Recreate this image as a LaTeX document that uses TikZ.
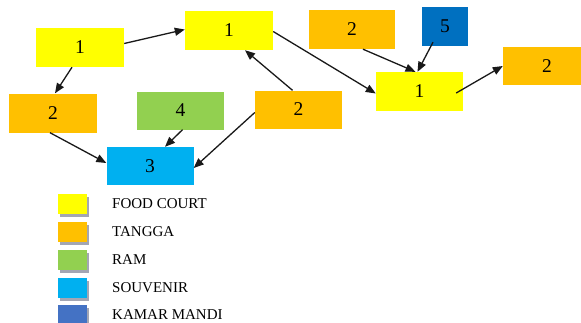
\documentclass[tikz,border=0pt]{standalone}
\usepackage{fontspec}
\setmainfont{Liberation Serif}
\usetikzlibrary{arrows.meta}
\definecolor{fy}{HTML}{FFFF00}
\definecolor{fo}{HTML}{FFC000}
\definecolor{fg}{HTML}{92D050}
\definecolor{fb}{HTML}{00B0F0}
\definecolor{fd}{HTML}{0070C0}
\definecolor{fk}{HTML}{4472C4}
\definecolor{shade}{HTML}{A3A6B4}
\tikzset{
  box/.style={rectangle, inner sep=0pt, minimum width=88pt, minimum height=39pt, font=\fontsize{19.5}{19.5}\selectfont},
  conn/.style={draw=black!90, line width=1.3pt, -{Triangle[length=10pt,width=8pt]}},
  legsq/.style={rectangle, inner sep=0pt, minimum width=29pt, minimum height=20pt},
  legshadow/.style={rectangle, inner sep=0pt, minimum width=29pt, minimum height=20pt, fill=shade},
  legtxt/.style={anchor=west, inner sep=0pt, font=\fontsize{15}{15}\selectfont}
}
\begin{document}
\begin{tikzpicture}[x=1pt,y=-1pt]
\useasboundingbox (0,0) rectangle (581,322);
\clip (0,0) rectangle (581,322);
% boxes
\node[box, fill=fy] (A) at (80,47.5) {1};
\node[box, fill=fy] (B) at (229,30.5) {1};
\node[box, fill=fo] (C) at (53,113) {2};
\node[box, fill=fg, minimum width=87pt, minimum height=38pt] (D) at (180.5,110.5) {4};
\node[box, fill=fb, minimum width=87pt, minimum height=38pt] (E) at (150,166) {3};
\node[box, fill=fo, minimum width=87pt, minimum height=38pt] (F) at (298.5,109.5) {2};
\node[box, fill=fo, minimum width=86pt] (G) at (352,29.5) {2};
\node[box, fill=fd, minimum width=46pt] (H) at (445,26.5) {5};
\node[box, fill=fy, minimum width=87pt] (I) at (419.5,91.5) {1};
\node[box, fill=fo, minimum width=88pt, minimum height=38pt] (J) at (547,66) {2};
% connectors
\draw[conn] ([yshift=4pt]A.east) -- ([yshift=1pt]B.west);
\draw[conn] ([xshift=-8pt]A.south) -- ([xshift=2pt]C.north);
\draw[conn] ([yshift=-1pt]B.east) -- ([yshift=-2pt]I.west);
\draw[conn] ([xshift=-6pt]F.north) -- ([xshift=16pt]B.south);
\draw[conn] ([yshift=-3pt]F.west) -- ([yshift=-2pt]E.east);
\draw[conn] ([xshift=-3pt]C.south) -- ([yshift=3pt]E.west);
\draw[conn] ([xshift=2pt]D.south) -- ([xshift=15pt]E.north);
\draw[conn] ([xshift=11pt]G.south) -- ([xshift=-4pt]I.north);
\draw[conn] ([xshift=-12pt,yshift=4pt]H.south) -- ([xshift=-2pt]I.north);
\draw[conn] ([xshift=-7pt,yshift=-1.5pt]I.east) -- (J.west);
% legend
\foreach \c/\y/\t/\n in {fy/204/FOOD COURT/la, fo/232/TANGGA/lb, fg/260/RAM/lc, fb/288/SOUVENIR/ld, fk/315/KAMAR MANDI/le}{
  \node[legshadow] (s\n) at (74.5,\y+2.5) {};
  \node[legsq, fill=\c] (q\n) at (72.5,\y) {};
  \node[legtxt] (t\n) at (112,\y) {\t};
}
\end{tikzpicture}
\end{document}
